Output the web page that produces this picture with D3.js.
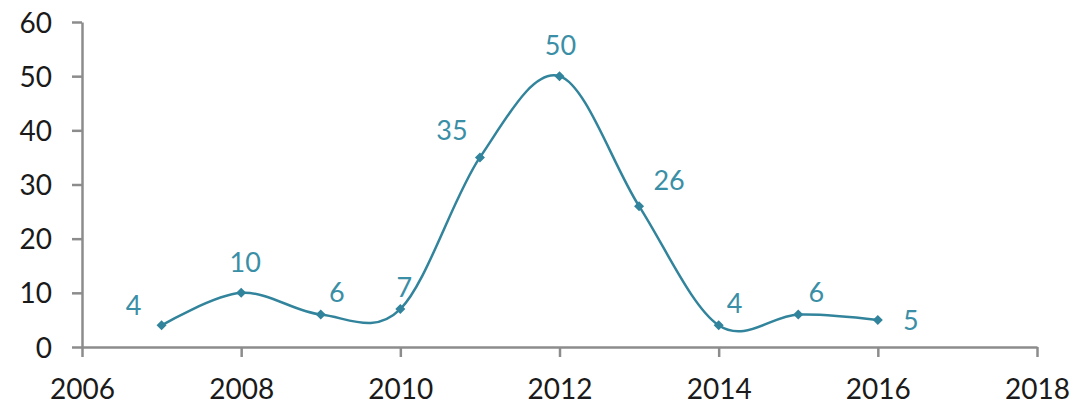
<!DOCTYPE html>
<html>
<head>
<meta charset="utf-8">
<script src="https://cdn.jsdelivr.net/npm/d3@7"></script>
<style>
  body { margin: 0; background: #fff; }
  svg text { font-family: Lato, "Open Sans", sans-serif; }
</style>
</head>
<body>
<div id="cnt"></div>
<script>
// datos
let anios = [2007, 2008, 2009, 2010, 2011, 2012, 2013, 2014, 2015, 2016];
let valores = [4, 10, 6, 7, 35, 50, 26, 4, 6, 5];
let ticksX = [2006, 2008, 2010, 2012, 2014, 2016, 2018];
let ticksY = [0, 10, 20, 30, 40, 50, 60];

// donde va cada etiqueta respecto al punto
let posEtiqueta = [[-28, -20], [4, -31], [16, -22], [4, -22], [-28, -27], [1, -31], [30, -26], [16, -22], [18, -22], [33, 0]];

let ancho = 1087;
let largo = 405;

let x = d3.scaleLinear().domain([2006, 2018]).range([82, 1037]);
let y = d3.scaleLinear().domain([0, 60]).range([347, 22]);

let colorLinea = "#31849b";
let colorTexto = "#3a8fa6";
let colorEje = "#8c8c8c";

let svg = d3.select('#cnt')
    .append("svg")
    .attr('width', ancho)
    .attr('height', largo)

// eje Y
let ejeY = svg.append("g")
    .attr("transform", "translate(82,0)")
    .call(d3.axisLeft(y).tickValues(ticksY).tickSize(10).tickPadding(20).tickSizeOuter(0))
ejeY.select(".domain").attr("stroke", colorEje).attr("stroke-width", 2.5)
ejeY.selectAll(".tick line").attr("stroke", colorEje).attr("stroke-width", 2.5)
ejeY.selectAll(".tick text")
    .attr("fill", "#1a1a1a")
    .style("font-size", "28px")
    .attr("dy", "0.36em")

// eje X
let ejeX = svg.append("g")
    .attr("transform", "translate(0,347)")
    .call(d3.axisBottom(x).tickValues(ticksX).tickFormat(d3.format("d")).tickSize(10).tickPadding(22).tickSizeOuter(0))
ejeX.select(".domain").attr("stroke", colorEje).attr("stroke-width", 2.5)
ejeX.selectAll(".tick line").attr("stroke", colorEje).attr("stroke-width", 2.5)
ejeX.selectAll(".tick text")
    .attr("fill", "#1a1a1a")
    .style("font-size", "28px")

// linea suavizada
let datos = anios.map((a, i) => ({anio: a, valor: valores[i]}));

let linea = d3.line()
    .x(d => x(d.anio))
    .y(d => y(d.valor))
    .curve(d3.curveCardinal.tension(0))

svg.append("path")
    .datum(datos)
    .attr("d", linea)
    .attr("fill", "none")
    .attr("stroke", colorLinea)
    .attr("stroke-width", 2.5)

// marcadores (cuadrado girado)
svg.selectAll(".marca")
    .data(datos).enter()
    .append("path")
    .attr("class", "marca")
    .attr("d", d3.symbol().type(d3.symbolSquare).size(50))
    .attr("transform", d => "translate(" + x(d.anio) + "," + y(d.valor) + ") rotate(45)")
    .attr("fill", colorLinea)

// etiquetas
svg.selectAll(".etq")
    .data(datos).enter()
    .append("text")
    .attr("class", "etq")
    .attr("x", (d, i) => x(d.anio) + posEtiqueta[i][0])
    .attr("y", (d, i) => y(d.valor) + posEtiqueta[i][1])
    .attr("dy", "0.36em")
    .attr("text-anchor", "middle")
    .attr("fill", colorTexto)
    .style("font-size", "27px")
    .text(d => d.valor)
</script>
</body>
</html>
